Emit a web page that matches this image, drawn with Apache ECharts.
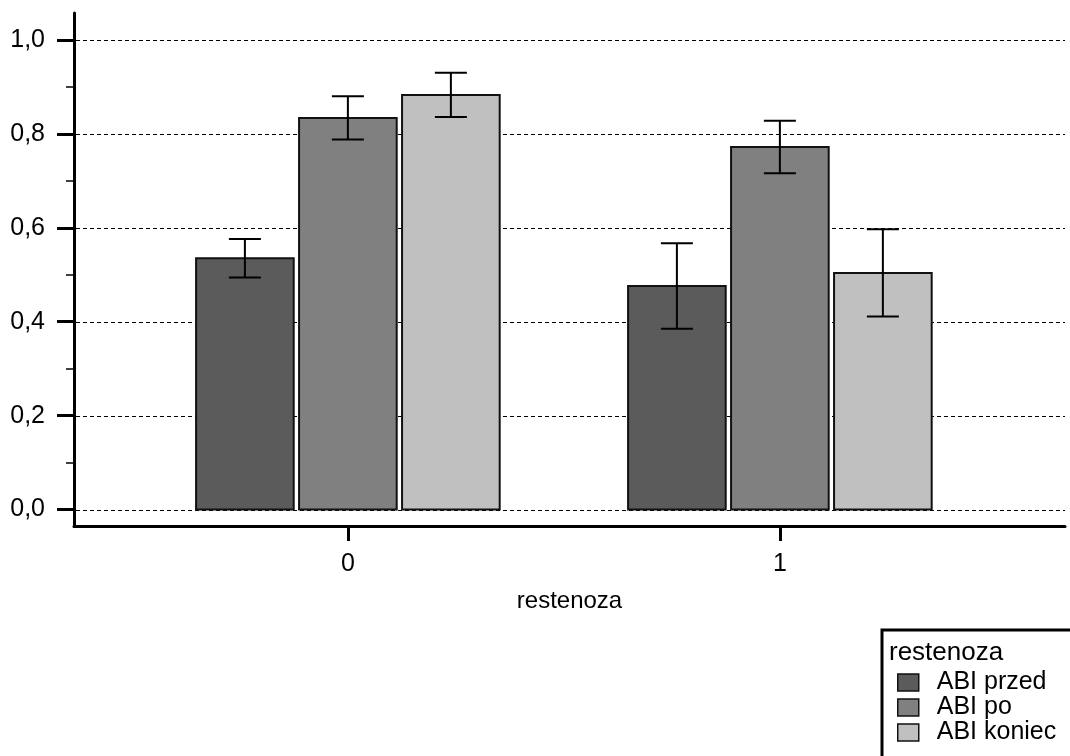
<!DOCTYPE html>
<html>
<head>
<meta charset="utf-8">
<script src="https://cdn.jsdelivr.net/npm/echarts@6/dist/echarts.min.js"></script>
<style>
  html, body { margin: 0; padding: 0; background: #fff; }
  #chart { width: 1070px; height: 756px; }
</style>
</head>
<body>
<div id="chart"></div>
<script>
// data
var categories = ['0', '1'];
var seriesNames = ['ABI przed', 'ABI po', 'ABI koniec'];
var abiPrzed = [0.535, 0.476];
var abiPrzedErr = [0.041, 0.091];
var abiPo = [0.834, 0.772];
var abiPoErr = [0.046, 0.056];
var abiKoniec = [0.883, 0.504];
var abiKoniecErr = [0.047, 0.093];
var yTicks = [0, 0.2, 0.4, 0.6, 0.8, 1.0];
var yMinorTicks = [0.1, 0.3, 0.5, 0.7, 0.9];

var font = 'Liberation Sans, Arial, sans-serif';
var colors = ['#5b5b5b', '#808080', '#c0c0c0'];
var barW = 0.226;   // bar width in x-axis units
var pitch = 0.2384; // distance between neighbouring bars

function rows(means, errs) {
  return means.map(function (m, i) { return [i, m, errs[i]]; });
}

function barRenderer(slot) {
  return function (params, api) {
    var x = api.value(0), y = api.value(1), e = api.value(2);
    var unit = api.coord([1, 0])[0] - api.coord([0, 0])[0];
    var cx = api.coord([x, 0])[0] + (slot - 1) * pitch * unit;
    var w = barW * unit;
    var base = api.coord([x, 0])[1];
    var top = api.coord([x, y])[1];
    var hi = api.coord([x, y + e])[1];
    var lo = api.coord([x, y - e])[1];
    var cap = 16;
    var ls = { stroke: '#000', lineWidth: 2 };
    return {
      type: 'group',
      children: [
        { type: 'rect', shape: { x: cx - w / 2, y: top, width: w, height: base - top },
          style: api.style({ stroke: '#111', lineWidth: 2 }) },
        { type: 'line', shape: { x1: cx, y1: hi, x2: cx, y2: lo }, style: ls },
        { type: 'line', shape: { x1: cx - cap, y1: hi, x2: cx + cap, y2: hi }, style: ls },
        { type: 'line', shape: { x1: cx - cap, y1: lo, x2: cx + cap, y2: lo }, style: ls }
      ]
    };
  };
}

var chart = echarts.init(document.getElementById('chart'));

chart.setOption({
  animation: false,
  backgroundColor: '#fff',
  textStyle: { fontFamily: font },
  grid: { left: 74, right: 5, top: 13, bottom: 230, containLabel: false },
  xAxis: {
    type: 'value',
    min: -0.634,
    max: 1.66,
    name: 'restenoza',
    nameLocation: 'middle',
    nameGap: 63,
    nameTextStyle: { fontSize: 24, color: '#000', fontFamily: font },
    axisLine: { show: true, onZero: false, lineStyle: { color: '#000', width: 3 } },
    axisTick: { show: true, customValues: [0, 1], length: 15, lineStyle: { color: '#000', width: 3 } },
    axisLabel: {
      customValues: [0, 1],
      fontSize: 25, color: '#000', margin: 26,
      formatter: function (v) { return categories[Math.round(v)]; }
    },
    splitLine: { show: false }
  },
  yAxis: [{
    type: 'value',
    min: -0.035,
    max: 1.0575,
    axisLine: { show: true, onZero: false, lineStyle: { color: '#000', width: 3 } },
    axisTick: { show: true, customValues: yTicks, length: 17, lineStyle: { color: '#000', width: 3 } },
    axisLabel: {
      customValues: yTicks,
      fontSize: 25, color: '#000', margin: 29,
      formatter: function (v) { return v.toFixed(1).replace('.', ','); }
    },
    splitLine: { show: false }
  }, {
    type: 'value',
    min: -0.035,
    max: 1.0575,
    position: 'left',
    axisLine: { show: false, onZero: false },
    axisTick: { show: true, customValues: yMinorTicks, length: 8, lineStyle: { color: '#000', width: 1.5 } },
    axisLabel: { show: false },
    splitLine: { show: false }
  }],
  legend: {
    data: seriesNames,
    orient: 'vertical',
    left: 892,
    top: 665,
    itemWidth: 21,
    itemHeight: 17,
    itemGap: 0,
    icon: 'rect',
    itemStyle: { borderColor: '#111', borderWidth: 1.5 },
    textStyle: { fontSize: 25, lineHeight: 24, color: '#000', fontFamily: font, padding: [0, 0, 0, 13] }
  },
  graphic: [
    { type: 'rect', z: 0, shape: { x: 882, y: 630, width: 260, height: 200 },
      style: { fill: '#fff', stroke: '#000', lineWidth: 3 } },
    { type: 'text', z: 1, left: 889, top: 640,
      style: { text: 'restenoza', font: '26px ' + font, fill: '#000' } }
  ],
  series: [{
    type: 'custom',
    name: 'grid',
    silent: true,
    z: 1,
    data: yTicks.map(function (v) { return [0, v]; }),
    renderItem: function (params, api) {
      // snap to the pixel grid so the dashes stay crisp
      var y = Math.round(api.coord([0, api.value(1)])[1]) + 0.5;
      var cs = params.coordSys;
      return { type: 'line', shape: { x1: cs.x + 2, y1: y, x2: cs.x + cs.width, y2: y },
        style: { stroke: '#000', lineWidth: 1, lineDash: [4, 3] } };
    }
  }, {
    type: 'custom', name: seriesNames[0], z: 2,
    itemStyle: { color: colors[0] },
    encode: { x: 0, y: 1 },
    data: rows(abiPrzed, abiPrzedErr),
    renderItem: barRenderer(0)
  }, {
    type: 'custom', name: seriesNames[1], z: 2,
    itemStyle: { color: colors[1] },
    encode: { x: 0, y: 1 },
    data: rows(abiPo, abiPoErr),
    renderItem: barRenderer(1)
  }, {
    type: 'custom', name: seriesNames[2], z: 2,
    itemStyle: { color: colors[2] },
    encode: { x: 0, y: 1 },
    data: rows(abiKoniec, abiKoniecErr),
    renderItem: barRenderer(2)
  }]
});
</script>
</body>
</html>
